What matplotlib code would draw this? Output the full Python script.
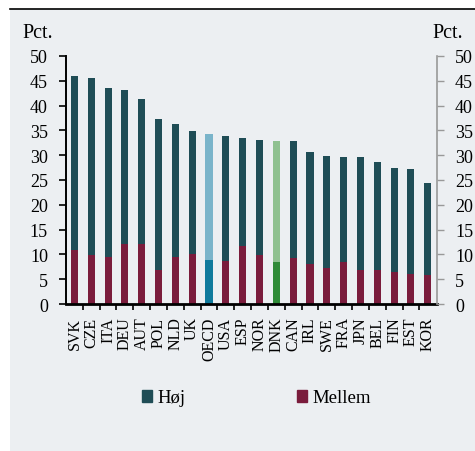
import matplotlib
matplotlib.use("Agg")
from matplotlib import pyplot as plt
from matplotlib import patches, lines
import numpy as np

plt.rcParams['font.family'] = ['Liberation Serif', 'DejaVu Serif']

countries = ['SVK', 'CZE', 'ITA', 'DEU', 'AUT', 'POL', 'NLD', 'UK', 'OECD', 'USA', 'ESP',
             'NOR', 'DNK', 'CAN', 'IRL', 'SWE', 'FRA', 'JPN', 'BEL', 'FIN', 'EST', 'KOR']
total = [46.0, 45.6, 43.6, 43.1, 41.3, 37.3, 36.2, 34.8, 34.3, 33.9, 33.5,
         33.1, 32.9, 32.8, 30.6, 29.8, 29.7, 29.6, 28.7, 27.4, 27.3, 24.4]
mellem = [10.8, 9.8, 9.5, 12.0, 12.0, 6.9, 9.5, 10.0, 8.9, 8.7, 11.6,
          9.9, 8.5, 9.2, 8.1, 7.2, 8.5, 6.9, 6.9, 6.4, 6.0, 5.8]
hoej = [t - m for t, m in zip(total, mellem)]
yticks = [0, 5, 10, 15, 20, 25, 30, 35, 40, 45, 50]

c_hoej, c_mellem = '#1f4d56', '#7a1c3c'
special = {'OECD': ('#7ab4ca', '#0f7a9c'), 'DNK': ('#8fc190', '#2f8b38')}
bg = '#eceff2'

top_colors = [special.get(c, (c_hoej, c_mellem))[0] for c in countries]
bot_colors = [special.get(c, (c_hoej, c_mellem))[1] for c in countries]

fig = plt.figure(figsize=(4.75, 4.52), dpi=100)
fig.patches.append(patches.Rectangle((10/475, 0), 1, 442/452, transform=fig.transFigure,
                                     facecolor=bg, edgecolor='none', zorder=-10))
fig.lines.append(lines.Line2D([10/475, 1], [442/452, 442/452], transform=fig.transFigure,
                              color='black', lw=1.2))

ax = fig.add_axes([66/475, 147/452, 371/475, 248/452])
ax.patch.set_alpha(0)
x = np.arange(len(countries))
ax.bar(x, mellem, width=0.42, color=bot_colors, edgecolor='none')
ax.bar(x, hoej, bottom=mellem, width=0.42, color=top_colors, edgecolor='none')

ax.set_xlim(-0.5, len(countries) - 0.45)
ax.set_ylim(0, 50)
ax.set_yticks(yticks)
ax.tick_params(axis='y', labelsize=13, length=5, width=1.2, direction='out', pad=8)
ax.set_xticks(x)
ax.set_xticklabels(countries, rotation=90, fontsize=11.5)
ax.tick_params(axis='x', length=0, pad=9)
ax.set_xticks(x[:-1] + 0.5, minor=True)
ax.tick_params(axis='x', which='minor', length=4, width=1.2)

for s in ['top', 'right']:
    ax.spines[s].set_visible(False)
ax.spines['left'].set_linewidth(1.4)
ax.spines['bottom'].set_linewidth(2)

ax2 = ax.twinx()
ax2.set_ylim(0, 50)
ax2.set_yticks(yticks)
ax2.tick_params(axis='y', labelsize=13, length=5, width=1, color='#999999', pad=8)
for s in ['top', 'left', 'bottom']:
    ax2.spines[s].set_visible(False)
ax2.spines['right'].set_color('#999999')
ax2.spines['right'].set_linewidth(1.2)

fig.text(22/475, 1 - 34/452, 'Pct.', fontsize=14.5, va='center', ha='left')
fig.text(432/475, 1 - 34/452, 'Pct.', fontsize=14.5, va='center', ha='left')

handles = [patches.Patch(color=c_hoej, label='Høj'),
           patches.Patch(color=c_mellem, label='Mellem')]
fig.legend(handles=handles, loc='center', bbox_to_anchor=(0.54, 1 - 399/452), ncol=2,
           frameon=False, fontsize=13.5, handlelength=0.55, handleheight=0.55,
           handletextpad=0.3, columnspacing=5.9)

fig.savefig('out.png', dpi=100)
